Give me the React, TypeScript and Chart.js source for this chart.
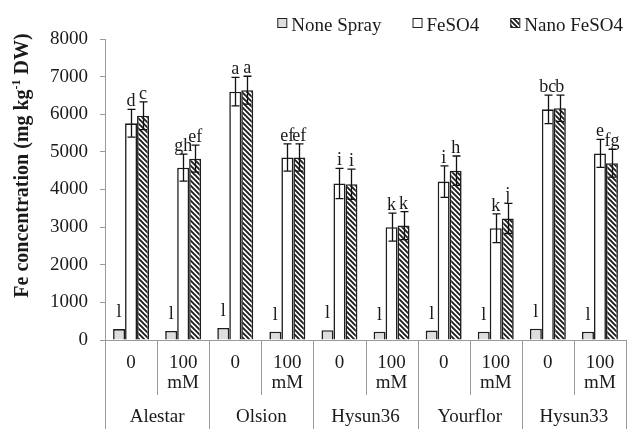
import React, { useEffect, useRef } from 'react';
import { Chart, registerables } from 'chart.js';

Chart.register(...registerables);

// ---- data ----
const cultivars = ['Alestar', 'Olsion', 'Hysun36', 'Yourflor', 'Hysun33'];
const salinityLevels = ['0', '100 mM'];
const categories = cultivars.flatMap((c) => salinityLevels.map((s) => `${c} ${s}`));

const seriesNames = ['None Spray', 'FeSO4', 'Nano FeSO4'];
const noneSpray = [290, 240, 320, 220, 260, 220, 250, 220, 300, 220];
const feso4 = [5760, 4580, 6600, 4850, 4160, 3000, 4210, 2970, 6130, 4960];
const nanoFeso4 = [5960, 4820, 6640, 4850, 4140, 3040, 4500, 3230, 6160, 4700];
const feso4Err = [370, 360, 380, 360, 400, 370, 420, 380, 380, 370];
const nanoFeso4Err = [370, 360, 370, 360, 400, 370, 390, 400, 350, 370];

const noneLetters = ['l', 'l', 'l', 'l', 'l', 'l', 'l', 'l', 'l', 'l'];
const feso4Letters = ['d', 'gh', 'a', 'ef', 'i', 'k', 'i', 'k', 'bc', 'e'];
const nanoLetters = ['c', 'ef', 'a', 'ef', 'i', 'k', 'h', 'j', 'b', 'fg'];

const yTicks = [0, 1000, 2000, 3000, 4000, 5000, 6000, 7000, 8000];

const SERIF = '"Liberation Serif", "Times New Roman", serif';
const TEXT = '#1a1a1a';
const AXIS = '#9a9a9a';

function makeHatch(): CanvasPattern {
  const s = 5;
  const c = document.createElement('canvas');
  c.width = s;
  c.height = s;
  const g = c.getContext('2d')!;
  g.fillStyle = '#ffffff';
  g.fillRect(0, 0, s, s);
  g.strokeStyle = '#1e1e1e';
  g.lineWidth = 1.9;
  g.beginPath();
  for (const o of [-s, 0, s]) {
    g.moveTo(o - 1, -1);
    g.lineTo(o + s + 1, s + 1);
  }
  g.stroke();
  return g.createPattern(c, 'repeat')!;
}

export default function App() {
  const ref = useRef<HTMLCanvasElement>(null);

  useEffect(() => {
    const canvas = ref.current!;
    const hatch = makeHatch();
    const fills: (string | CanvasPattern)[] = ['#dedede', '#ffffff', hatch];

    const errorBars = {
      id: 'errorBars',
      afterDatasetsDraw(chart: any) {
        const { ctx } = chart;
        const y = chart.scales.y;
        const sets: [number, number[], number[]][] = [
          [1, feso4, feso4Err],
          [2, nanoFeso4, nanoFeso4Err],
        ];
        ctx.save();
        ctx.strokeStyle = '#111';
        ctx.lineWidth = 1.3;
        for (const [idx, vals, errs] of sets) {
          const meta = chart.getDatasetMeta(idx);
          meta.data.forEach((bar: any, i: number) => {
            const x = Math.round(bar.x) + 0.5;
            const t = y.getPixelForValue(vals[i] + errs[i]);
            const b = y.getPixelForValue(vals[i] - errs[i]);
            ctx.beginPath();
            ctx.moveTo(x, t);
            ctx.lineTo(x, b);
            ctx.moveTo(x - 4, t);
            ctx.lineTo(x + 4, t);
            ctx.moveTo(x - 4, b);
            ctx.lineTo(x + 4, b);
            ctx.stroke();
          });
        }
        ctx.restore();
      },
    };

    const letters = {
      id: 'letters',
      afterDatasetsDraw(chart: any) {
        const { ctx } = chart;
        const y = chart.scales.y;
        ctx.save();
        ctx.font = `18px ${SERIF}`;
        ctx.fillStyle = TEXT;
        ctx.textAlign = 'center';
        ctx.textBaseline = 'alphabetic';
        const sets: [number, string[], number[], number[] | null][] = [
          [0, noneLetters, noneSpray, null],
          [1, feso4Letters, feso4, feso4Err],
          [2, nanoLetters, nanoFeso4, nanoFeso4Err],
        ];
        for (const [idx, labs, vals, errs] of sets) {
          const meta = chart.getDatasetMeta(idx);
          meta.data.forEach((bar: any, i: number) => {
            const yy = errs
              ? y.getPixelForValue(vals[i] + errs[i]) - 3
              : y.getPixelForValue(vals[i]) - 12;
            ctx.fillText(labs[i], bar.x, yy);
          });
        }
        ctx.restore();
      },
    };

    const xLabels = {
      id: 'xLabels',
      afterDraw(chart: any) {
        const { ctx } = chart;
        const x = chart.scales.x;
        const area = chart.chartArea;
        const n = categories.length;
        const w = x.getPixelForValue(1) - x.getPixelForValue(0);
        const bottom = area.bottom;
        const H = chart.height;
        ctx.save();
        ctx.strokeStyle = AXIS;
        ctx.lineWidth = 1;
        for (let i = 0; i <= n; i++) {
          const px = Math.round(x.getPixelForValue(i) - w / 2) + 0.5;
          const isGroup = i % salinityLevels.length === 0;
          ctx.beginPath();
          ctx.moveTo(px, bottom);
          ctx.lineTo(px, isGroup ? H : bottom + 55);
          ctx.stroke();
        }
        ctx.font = `19px ${SERIF}`;
        ctx.fillStyle = TEXT;
        ctx.textAlign = 'center';
        ctx.textBaseline = 'alphabetic';
        for (let i = 0; i < n; i++) {
          const cx = x.getPixelForValue(i);
          const parts = salinityLevels[i % salinityLevels.length].split(' ');
          parts.forEach((p, k) => ctx.fillText(p, cx, bottom + 28 + k * 20));
        }
        cultivars.forEach((c, g) => {
          const cx = (x.getPixelForValue(g * 2) + x.getPixelForValue(g * 2 + 1)) / 2;
          ctx.fillText(c, cx, bottom + 82);
        });
        ctx.restore();
      },
    };

    const yTitle = {
      id: 'yTitle',
      afterDraw(chart: any) {
        const { ctx } = chart;
        const area = chart.chartArea;
        const main1 = 'Fe concentration (mg kg';
        const sup = '-1';
        const main2 = ' DW)';
        ctx.save();
        const bold = `bold 20px ${SERIF}`;
        const supFont = `bold 12px ${SERIF}`;
        ctx.font = bold;
        const w1 = ctx.measureText(main1).width;
        const w3 = ctx.measureText(main2).width;
        ctx.font = supFont;
        const w2 = ctx.measureText(sup).width;
        const total = w1 + w2 + w3;
        const cy = (area.top + area.bottom) / 2 - 24;
        ctx.translate(28, cy);
        ctx.rotate(-Math.PI / 2);
        ctx.fillStyle = TEXT;
        ctx.textBaseline = 'alphabetic';
        ctx.textAlign = 'left';
        let sx = -total / 2;
        ctx.font = bold;
        ctx.fillText(main1, sx, 0);
        sx += w1;
        ctx.font = supFont;
        ctx.fillText(sup, sx, -8);
        sx += w2;
        ctx.font = bold;
        ctx.fillText(main2, sx, 0);
        ctx.restore();
      },
    };

    const legend = {
      id: 'customLegend',
      afterDraw(chart: any) {
        const { ctx } = chart;
        ctx.save();
        ctx.font = `19px ${SERIF}`;
        const box = 9;
        const gapBoxText = 5;
        const gapItems = 31;
        const widths = seriesNames.map((s) => ctx.measureText(s).width);
        const total =
          widths.reduce((a, b) => a + b, 0) +
          seriesNames.length * (box + gapBoxText) +
          gapItems * (seriesNames.length - 1);
        let x = 623 - total;
        const baseline = 31;
        seriesNames.forEach((s, i) => {
          ctx.fillStyle = fills[i] as any;
          ctx.fillRect(x, 18, box, box);
          ctx.strokeStyle = '#222';
          ctx.lineWidth = 1;
          ctx.strokeRect(x + 0.5, 18.5, box, box);
          ctx.fillStyle = TEXT;
          ctx.textAlign = 'left';
          ctx.textBaseline = 'alphabetic';
          ctx.fillText(s, x + box + gapBoxText, baseline);
          x += box + gapBoxText + widths[i] + gapItems;
        });
        ctx.restore();
      },
    };

    const chart = new Chart(canvas, {
      type: 'bar',
      data: {
        labels: categories,
        datasets: [
          { label: seriesNames[0], data: noneSpray, backgroundColor: fills[0] as any, borderColor: '#1e1e1e', borderWidth: 1.6 },
          { label: seriesNames[1], data: feso4, backgroundColor: fills[1] as any, borderColor: '#1e1e1e', borderWidth: 1.6 },
          { label: seriesNames[2], data: nanoFeso4, backgroundColor: fills[2] as any, borderColor: '#1e1e1e', borderWidth: 1.6 },
        ],
      },
      options: {
        responsive: false,
        animation: false,
        layout: { padding: { top: 39, right: 1, left: 0, bottom: 0 } },
        plugins: { legend: { display: false }, tooltip: { enabled: false } },
        datasets: { bar: { categoryPercentage: 0.69, barPercentage: 1 } },
        scales: {
          x: {
            grid: { display: false },
            border: { display: true, color: AXIS, width: 1 },
            ticks: { display: false },
            afterFit: (s: any) => {
              s.height = 89;
            },
          },
          y: {
            min: 0,
            max: 8000,
            afterBuildTicks: (s: any) => {
              s.ticks = yTicks.map((v) => ({ value: v }));
            },
            grid: { drawOnChartArea: false, drawTicks: true, tickLength: 5, color: AXIS },
            border: { display: true, color: AXIS, width: 1 },
            ticks: {
              font: { family: SERIF, size: 19 },
              color: TEXT,
              padding: 12,
              callback: (v: any) => String(v),
            },
            afterFit: (s: any) => {
              s.width = 105;
            },
          },
        },
      },
      plugins: [errorBars, letters, xLabels, yTitle, legend],
    } as any);

    return () => chart.destroy();
  }, []);

  return (
    <div style={{ position: 'fixed', left: 0, top: 0, width: 627, height: 429, background: '#fff' }}>
      <canvas ref={ref} width={627} height={429} style={{ display: 'block' }} />
    </div>
  );
}
